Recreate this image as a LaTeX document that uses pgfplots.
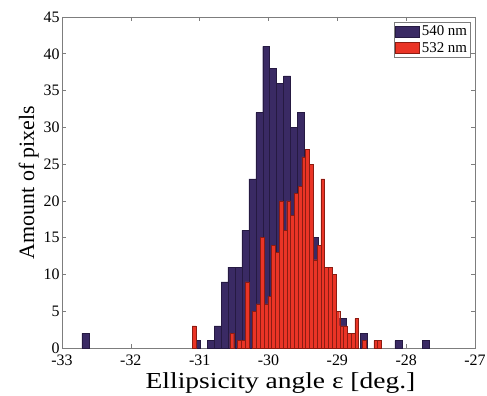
\documentclass[border=0pt]{standalone}
\usepackage{fontspec}
\setmainfont{Liberation Serif}
\usepackage{graphicx}
\usepackage{pgfplots}
\pgfplotsset{compat=1.18}
\definecolor{bluebar}{RGB}{58,42,100}
\definecolor{blueedge}{RGB}{38,26,66}
\definecolor{redbar}{RGB}{234,52,38}
\definecolor{rededge}{RGB}{140,28,18}
\definecolor{axgray}{RGB}{125,125,125}
\begin{document}
\begin{tikzpicture}
\begin{axis}[
  scale only axis, width=413bp, height=331bp,
  xmin=-33, xmax=-27, ymin=0, ymax=45,
  xtick={-33,-32,-31,-30,-29,-28,-27},
  ytick={0,5,10,15,20,25,30,35,40,45},
  tick align=inside, major tick length=4bp,
  axis line style={axgray, line width=0.8pt}, tick style={axgray, line width=0.6pt},
  /pgf/number format/assume math mode=true,
  ticklabel style={font=\fontsize{16}{16}\selectfont},
  xticklabel style={yshift=-3bp},
  yticklabel style={xshift=1bp},
  xlabel={\scalebox{1.2}[1]{Ellipsicity angle ε [deg.]}},
  ylabel={Amount of pixels},
  xlabel style={font=\fontsize{23}{23}\selectfont, yshift=0bp, xshift=12bp},
  ylabel style={font=\fontsize{22}{22}\selectfont, yshift=-2bp},
  legend style={at={(rel axis cs:0.99,0.985)}, anchor=north east,
    draw=axgray, line width=0.6pt, font=\fontsize{15}{15}\selectfont,
    inner sep=1.5pt, row sep=1pt},
  legend cell align=left,
  legend image code/.code={\draw[#1] (0bp,-5.5bp) rectangle (24bp,5.5bp);},
]
\coordinate (sw) at (rel axis cs:0,0);
\coordinate (ne) at (rel axis cs:1,1);
\addplot[ybar, bar width=0.101, bar shift=0pt, fill=bluebar, draw=blueedge, line width=0.4pt] coordinates {
(-32.6595,2) (-31.0435,1) (-30.8415,1) (-30.7405,3) (-30.6395,9) (-30.5385,11)
(-30.4375,11) (-30.3365,16) (-30.2355,23) (-30.1345,32) (-30.0335,41) (-29.9325,38)
(-29.8315,36) (-29.7305,37) (-29.6295,30) (-29.5285,32) (-29.4275,17) (-29.3265,15)
(-29.2255,6) (-29.1245,9) (-29.0235,3) (-28.9225,4) (-28.8215,2) (-28.6195,2)
(-28.1145,1) (-27.7105,1)
};
\addlegendentry{540 nm}
\addplot[ybar, bar width=0.055, bar shift=0pt, fill=redbar, draw=rededge, line width=0.4pt] coordinates {
(-31.0825,3) (-30.5325,2) (-30.4225,1) (-30.3675,1) (-30.3125,9) (-30.2025,5)
(-30.1475,6) (-30.0925,15) (-30.0375,6) (-29.9825,7) (-29.9275,14) (-29.8725,13)
(-29.8175,20) (-29.7625,16) (-29.7075,20) (-29.6525,18) (-29.5975,21) (-29.5425,22)
(-29.4875,26) (-29.4325,27) (-29.3775,25) (-29.3225,12) (-29.2675,14) (-29.2125,23)
(-29.1575,11) (-29.1025,11) (-29.0475,10) (-28.9925,5) (-28.9375,3) (-28.8825,3)
(-28.8275,2) (-28.7725,2) (-28.7175,4) (-28.6075,1) (-28.4425,1) (-28.3875,1)
};
\addlegendentry{532 nm}
\end{axis}
\pgfresetboundingbox
\path[use as bounding box] ([xshift=-62bp,yshift=-47bp]sw) rectangle ([xshift=12bp,yshift=17bp]ne);
\end{tikzpicture}
\end{document}
